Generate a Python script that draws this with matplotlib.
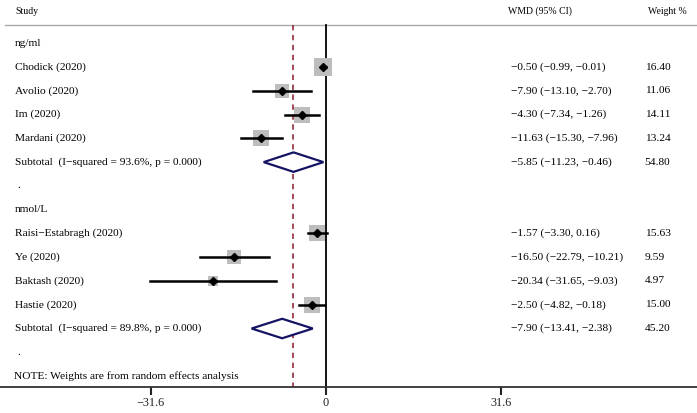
import matplotlib
matplotlib.use("Agg")
import matplotlib.pyplot as plt

plt.rcParams['font.family'] = ['Liberation Serif', 'DejaVu Serif']

# group 1: ng/ml
g1_names = ["Chodick (2020)", "Avolio (2020)", "Im (2020)", "Mardani (2020)"]
g1_wmd = [-0.50, -7.90, -4.30, -11.63]
g1_lo = [-0.99, -13.10, -7.34, -15.30]
g1_hi = [-0.01, -2.70, -1.26, -7.96]
g1_wt = [16.40, 11.06, 14.11, 13.24]
g1_sub = (-5.85, -11.23, -0.46, 54.80, "93.6%")

# group 2: nmol/L
g2_names = ["Raisi\u2212Estabragh (2020)", "Ye (2020)", "Baktash (2020)", "Hastie (2020)"]
g2_wmd = [-1.57, -16.50, -20.34, -2.50]
g2_lo = [-3.30, -22.79, -31.65, -4.82]
g2_hi = [0.16, -10.21, -9.03, -0.18]
g2_wt = [15.63, 9.59, 4.97, 15.00]
g2_sub = (-7.90, -13.41, -2.38, 45.20, "89.8%")

overall = -6.03
ticks = [-31.6, 0, 31.6]
tick_labels = ["\u221231.6", "0", "31.6"]

FS = 8.2
x_lab = -56.0
x_est = 33.3
x_wt = 57.4


def fmt(v):
    s = "%.2f" % v
    return s.replace("-", "\u2212")


fig = plt.figure(figsize=(6.97, 4.13), dpi=100)
ax = fig.add_axes([0, 26 / 413, 1, 387 / 413])
ax.set_xlim(-326 / 5.55, (697 - 326) / 5.55)
ax.set_ylim(14.46, -1.82)

line_top = -0.77
ax.plot([-57.9, 70], [line_top, line_top], color="#aaaaaa", lw=1.0, clip_on=False)
ax.plot([0, 0], [line_top, 14.46], color="black", lw=1.3)
ax.plot([overall, overall], [line_top, 14.46], color="#8b1a2a", lw=1.1,
        dashes=(3.5, 3))

ax.text(x_lab, -1.357, "Study", fontsize=7, va="center")
ax.text(x_est - 0.5, -1.357, "WMD (95% CI)", fontsize=7, va="center")
ax.text(x_wt + 0.6, -1.357, "Weight %", fontsize=7, va="center")

row = 0
for head, names, wmd, lo, hi, wt, sub in [
        ("ng/ml", g1_names, g1_wmd, g1_lo, g1_hi, g1_wt, g1_sub),
        ("nmol/L", g2_names, g2_wmd, g2_lo, g2_hi, g2_wt, g2_sub)]:
    ax.text(x_lab, row, head, fontsize=FS, va="center")
    row += 1
    for n, m, l, h, w in zip(names, wmd, lo, hi, wt):
        ax.text(x_lab, row, n, fontsize=FS, va="center")
        ax.scatter([m], [row], s=150 * w / 16.4, marker="s", color="#bdbdbd",
                   linewidths=0, zorder=2)
        ax.plot([l, h], [row, row], color="black", lw=1.8, zorder=3)
        ax.plot([m], [row], marker="D", color="black", markersize=4.2, zorder=4)
        ax.text(x_est, row, "%s (%s, %s)" % (fmt(m), fmt(l), fmt(h)),
                fontsize=FS, va="center")
        ax.text(x_wt, row, "%.2f" % w, fontsize=FS, va="center")
        row += 1
    m, l, h, w, i2 = sub
    ax.text(x_lab, row, "Subtotal  (I\u2212squared = %s, p = 0.000)" % i2,
            fontsize=FS, va="center")
    ax.fill([l, m, h, m, l], [row, row - 0.41, row, row + 0.41, row],
            facecolor="white", edgecolor="#141464", lw=1.6, zorder=5)
    ax.text(x_est, row, "%s (%s, %s)" % (fmt(m), fmt(l), fmt(h)),
            fontsize=FS, va="center")
    ax.text(x_wt, row, "%.2f" % w, fontsize=FS, va="center")
    row += 1
    ax.text(x_lab + 0.3, row, ".", fontsize=FS, va="center")
    row += 1

ax.text(x_lab - 0.3, row, "NOTE: Weights are from random effects analysis",
        fontsize=FS, va="center")

for s in ["top", "left", "right"]:
    ax.spines[s].set_visible(False)
ax.spines["bottom"].set_color("#333333")
ax.spines["bottom"].set_linewidth(1.3)
ax.set_yticks([])
ax.set_xticks(ticks)
ax.set_xticklabels(tick_labels, fontsize=8.8)
ax.tick_params(axis="x", direction="out", length=6, width=1.5, pad=1.2,
               colors="#222222")

fig.savefig("out.png", dpi=100)
